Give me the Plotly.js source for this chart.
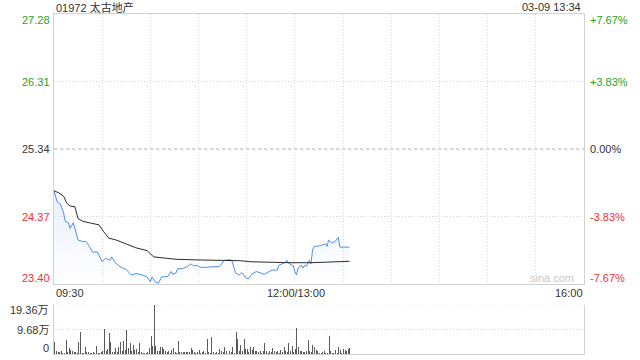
<!DOCTYPE html>
<html>
<head>
<meta charset="utf-8">
<script src="https://cdn.plot.ly/plotly-3.0.1.min.js"></script>
<style>html,body{margin:0;padding:0;background:#fff;}#chart{width:640px;height:360px;}</style>
</head>
<body>
<div id="chart"></div>
<script>
// ---- data ----
var stockTitle = "01972 太古地产";
var stampText = "03-09 13:34";
var prevClose = 25.34;

// minute index since 09:30 (lunch break collapsed: 12:00 and 13:00 share index 150)
var priceIdx = [0,2,4,6,7,9,10,12,13,15,18,20,22,24,27,30,32,35,36,38,41,45,48,51,55,58,60,61,63,65,67,71,73,74,76,77,80,83,85,87,89,91,94,97,100,103,105,106,110,111,113,115,117,119,121,123,126,129,131,134,136,139,140,144,145,146,149,150,151,152,154,155,156,157,159,160,161,162,166,169,170,171,173,175,177,178,181,184];
var priceVals = [24.74,24.58,24.55,24.42,24.30,24.28,24.20,24.28,24.20,24.03,24.01,24.01,23.94,23.86,23.86,23.72,23.77,23.74,23.79,23.71,23.65,23.61,23.53,23.55,23.53,23.50,23.43,23.50,23.43,23.41,23.50,23.51,23.58,23.54,23.56,23.62,23.62,23.65,23.69,23.66,23.67,23.64,23.64,23.65,23.65,23.65,23.70,23.74,23.75,23.72,23.56,23.53,23.56,23.50,23.47,23.54,23.58,23.55,23.54,23.58,23.60,23.60,23.67,23.71,23.74,23.70,23.66,23.58,23.53,23.63,23.67,23.63,23.67,23.65,23.74,23.69,23.89,23.94,23.95,23.98,23.94,24.03,23.99,24.01,24.07,23.93,23.93,23.93];

var avgIdx = [0,3,6,8,10,13,15,18,22,28,31,34,39,45,51,58,60,62,66,76,91,103,116,122,134,147,160,172,184];
var avgVals = [24.74,24.71,24.66,24.56,24.52,24.51,24.34,24.30,24.28,24.25,24.15,24.06,24.03,23.97,23.92,23.88,23.83,23.79,23.78,23.755,23.745,23.74,23.735,23.72,23.71,23.706,23.706,23.716,23.726];

// per-minute volume, in 万 shares
var volumes = [4.6,1.0,0.6,0.6,1.2,0.5,0.5,5.4,0.8,2.2, 1.5,1.0,0.8,0.6,0.4,4.6,8.6,0.3,0.5,2.6,
 0.6,0.6,0.4,0.3,0.6,0.5,3.3,0.3,0.4,0.8, 1.2,10.0,1.2,1.8,8.2,4.6,0.8,0.8,2.5,0.8,
 2.6,4.7,1.0,5.0,1.5,9.4,2.5,4.3,1.0,3.6, 1.5,2.0,0.8,4.2,0.6,0.5,0.4,0.5,0.8,2.5,
 7.2,3.0,19.36,3.3,1.0,1.2,2.8,2.8,1.8,1.0, 0.6,1.2,0.5,1.5,2.5,0.6,0.5,5.3,
 0.7,0.7,0.7,0.7,0.7,0.7,0.7,2.4,1.6,0.7,0.5,0.6,1.6,0.5,0.8,1.0,0.5,5.9,0.7,0.5,
 6.8,0.7,0.5,0.7,0.5,2.0,1.0,0.6,2.9,1.2,0.6,1.0,0.6,2.6,0.5,8.8,5.9,1.0,3.7,1.2,
 5.9,1.8,2.0,0.8,2.6,1.5,2.9,1.0,1.2,0.6,1.2,0.5,1.0,4.3,1.0,0.5,1.2,0.6,2.4,1.0,
 0.6,1.0,0.5,1.6,0.8,2.6,1.0,0.6,4.2,1.2,3.3,0.8,2.0,10.1,2.6,1.2,1.0,0.8,0.6,1.0,
 5.5,1.2,0.8,3.7,2.9,1.6,1.0,0.5,0.4,0.6,1.0,0.5,0.4,7.2,1.0,0.4,0.5,1.6,0.5,2.6,
 1.6,0.5,2.0,1.6,1.0,2.0,2.4];

var priceTicks = [27.28, 26.31, 25.34, 24.37, 23.40];
var pctLabels = ["+7.67%", "+3.83%", "0.00%", "-3.83%", "-7.67%"];
var volTicks = [19.36, 9.68, 0];
var volLabels = ["19.36万", "9.68万", "0"];
var timeTickVals = [0, 150, 330];
var timeTickText = ["09:30", "12:00/13:00", "16:00"];
var totalMinutes = 330;
var gridStep = 30;

// ---- styles ----
var FONT = "'Liberation Sans', Arial, 'Noto Sans CJK SC', sans-serif";
var GREEN = "#1ea21e", RED = "#f03232", DARK = "#333333";
var GRID = "#d6d6d6", FRAME = "#d2d2d2";

var volIdx = volumes.map(function (v, i) { return i; });
var gridVals = [];
for (var g = 0; g <= totalMinutes; g += gridStep) gridVals.push(g);

function colorFor(p) { return p > prevClose ? GREEN : (p < prevClose ? RED : DARK); }

var traces = [
  {
    x: priceIdx, y: priceVals, type: "scatter", mode: "lines",
    line: { color: "#4d8ef2", width: 1 },
    fill: "tozeroy",
    fillgradient: {
      type: "vertical", start: 23.40, stop: 24.74,
      colorscale: [[0, "rgba(77,142,242,0)"], [1, "rgba(77,142,242,0.13)"]]
    },
    xaxis: "x", yaxis: "y", hoverinfo: "skip"
  },
  {
    x: avgIdx, y: avgVals, type: "scatter", mode: "lines",
    line: { color: "#2b2b2b", width: 1 },
    xaxis: "x", yaxis: "y", hoverinfo: "skip"
  },
  {
    x: volIdx, y: volumes, type: "bar", width: 0.62,
    marker: { color: "#5a5a5a", line: { width: 0 } },
    xaxis: "x2", yaxis: "y2", hoverinfo: "skip"
  }
];

var mainBottom = (354 - 284) / 340; // paper fraction
var volTop = (354 - 305) / 340;

var annotations = [];
function ann(o) {
  var base = { showarrow: false, font: { family: FONT, size: 11, color: DARK }, borderpad: 0 };
  for (var k in o) base[k] = o[k];
  annotations.push(base);
}
ann({ text: stockTitle, xref: "paper", x: 0, xanchor: "left", xshift: 1, yref: "paper", y: 1, yanchor: "middle", yshift: 7 });
ann({ text: stampText, xref: "paper", x: 1, xanchor: "right", xshift: -2, yref: "paper", y: 1, yanchor: "middle", yshift: 7 });

priceTicks.forEach(function (p, i) {
  var ys = (i === 0) ? -6 : (i === priceTicks.length - 1 ? 6 : 0);
  ann({ text: p.toFixed(2), font: { family: FONT, size: 11, color: colorFor(p) },
        xref: "paper", x: 0, xanchor: "right", xshift: -3, yref: "y", y: p, yanchor: "middle", yshift: ys });
  ann({ text: pctLabels[i], font: { family: FONT, size: 11, color: colorFor(p) },
        xref: "paper", x: 1, xanchor: "left", xshift: 5, yref: "y", y: p, yanchor: "middle", yshift: ys });
});

timeTickVals.forEach(function (t, i) {
  var xa = i === 0 ? "left" : (i === timeTickVals.length - 1 ? "right" : "center");
  ann({ text: timeTickText[i], xref: "x", x: t, xanchor: xa, xshift: (i === 0 ? 1 : (xa === "right" ? 0 : 1)),
        yref: "paper", y: mainBottom, yanchor: "middle", yshift: -9 });
});

volTicks.forEach(function (v, i) {
  var ys = (i === 0) ? -5 : (i === volTicks.length - 1 ? 6 : 0);
  ann({ text: volLabels[i], xref: "paper", x: 0, xanchor: "right", xshift: -4, yref: "y2", y: v, yanchor: "middle", yshift: ys });
});

ann({ text: "sina.com", font: { family: FONT, size: 11, color: "#c8c8c8" },
      xref: "paper", x: 1, xanchor: "right", xshift: -9, yref: "paper", y: mainBottom, yanchor: "middle", yshift: 6 });

var layout = {
  width: 640, height: 360,
  margin: { l: 54, r: 56, t: 14, b: 6, pad: 0 },
  paper_bgcolor: "#ffffff", plot_bgcolor: "#ffffff",
  showlegend: false, bargap: 0,
  font: { family: FONT, size: 11, color: DARK },
  xaxis: {
    domain: [0, 1], range: [0, totalMinutes], anchor: "y",
    tickmode: "array", tickvals: gridVals, showticklabels: false, ticks: "",
    showgrid: true, gridcolor: GRID, griddash: "1px,2px", gridwidth: 1,
    showline: true, mirror: true, linecolor: FRAME, linewidth: 1, zeroline: false, fixedrange: true
  },
  yaxis: {
    domain: [mainBottom, 1], range: [priceTicks[priceTicks.length - 1], priceTicks[0]], anchor: "x",
    tickmode: "array", tickvals: priceTicks, showticklabels: false, ticks: "",
    showgrid: true, gridcolor: GRID, griddash: "1px,2px", gridwidth: 1,
    showline: true, mirror: true, linecolor: FRAME, linewidth: 1, zeroline: false, fixedrange: true
  },
  xaxis2: {
    domain: [0, 1], range: [-0.5, totalMinutes], anchor: "y2",
    showticklabels: false, ticks: "", showgrid: false,
    showline: true, mirror: false, linecolor: FRAME, linewidth: 1, zeroline: false, fixedrange: true
  },
  yaxis2: {
    domain: [0, volTop], range: [0, volTicks[0]], anchor: "x2",
    tickmode: "array", tickvals: volTicks, showticklabels: false, ticks: "",
    showgrid: true, gridcolor: GRID, griddash: "1px,2px", gridwidth: 1,
    showline: true, mirror: true, linecolor: FRAME, linewidth: 1, zeroline: false, fixedrange: true
  },
  shapes: [
    { type: "line", xref: "paper", x0: 0, x1: 1, yref: "y", y0: prevClose, y1: prevClose,
      line: { color: "#b0b0b0", width: 1, dash: "3px,3px" }, layer: "below" },
    { type: "line", xref: "paper", x0: 0, x1: 1, yref: "y2", y0: volTicks[0], y1: volTicks[0],
      line: { color: GRID, width: 1, dash: "1px,2px" }, layer: "below" }
  ],
  annotations: annotations
};

Plotly.newPlot("chart", traces, layout, { staticPlot: true, displayModeBar: false });
</script>
</body>
</html>
